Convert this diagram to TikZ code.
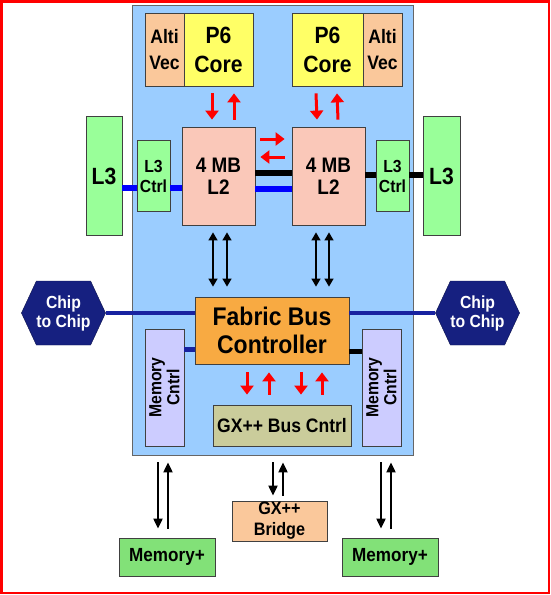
\documentclass[tikz,border=0pt]{standalone}
\usepackage{fontspec}
\setmainfont{Liberation Sans}[FakeStretch=0.9]
\usetikzlibrary{arrows.meta,shapes.symbols}

\definecolor{chipblue}{RGB}{155,205,255}
\definecolor{altipeach}{RGB}{250,200,155}
\definecolor{coreyellow}{RGB}{255,255,102}
\definecolor{ltwopink}{RGB}{250,200,185}
\definecolor{lthreegreen}{RGB}{153,255,153}
\definecolor{memgreen}{RGB}{130,225,120}
\definecolor{fabricorange}{RGB}{248,170,66}
\definecolor{cntrllilac}{RGB}{204,204,255}
\definecolor{gxolive}{RGB}{202,204,155}
\definecolor{hexnavy}{RGB}{22,32,128}
\definecolor{busnavy}{RGB}{24,34,160}
\definecolor{busblue}{RGB}{0,0,255}

\newcommand{\txtbig}{\fontsize{23.5}{29}\selectfont\bfseries}
\newcommand{\txtltwo}{\fontsize{21}{22}\selectfont\bfseries}
\newcommand{\txtalti}{\fontsize{19.5}{26}\selectfont\bfseries}
\newcommand{\txtfabric}{\fontsize{25.5}{28}\selectfont\bfseries}
\newcommand{\txtctrl}{\fontsize{17.5}{20}\selectfont\bfseries}
\newcommand{\txtchip}{\fontsize{17.5}{19}\selectfont\bfseries}
\newcommand{\txtmem}{\fontsize{17.5}{18}\selectfont\bfseries}
\newcommand{\txtmid}{\fontsize{18}{21}\selectfont\bfseries}
\newcommand{\txtplus}{\fontsize{19}{21}\selectfont\bfseries}
\newcommand{\txtgx}{\fontsize{19.5}{21}\selectfont\bfseries}

\begin{document}
\begin{tikzpicture}[x=1pt,y=-1pt,
		box/.style={draw=black!75,line width=0.8pt,inner sep=0pt,align=center},
		hexnode/.style={shape=signal,signal to=west and east,signal pointer angle=130,
			fill=hexnavy,draw=hexnavy!60!black,text=white,inner sep=0pt,align=center,
			minimum width=83pt,minimum height=64pt,font=\txtchip},
		redarr/.style={draw=red,line width=3pt,-{Triangle[width=13pt,length=9pt]}},
		duplex/.style={line width=1.5pt,{Triangle[width=9pt,length=8pt]}-{Triangle[width=9pt,length=8pt]}},
		onearr/.style={line width=2pt,-{Triangle[width=9pt,length=10pt]}}]
		\useasboundingbox (0,0) rectangle (550,595);
		
		% Frame
		\draw[red,line width=2.5pt] (1.25,1.25) rectangle (548.75,592.75);
		
		% Chip
		\node[draw=black!60,line width=0.8pt,fill=chipblue,minimum width=281pt,minimum height=450pt] (chip) at (272.5,230) {};
		
		%% Cores
		\node[box,fill=altipeach,minimum width=39pt,minimum height=73pt,font=\txtalti] (altiL) at (164.5,49.5) {Alti\\Vec};
		\node[box,fill=coreyellow,minimum width=69pt,minimum height=73pt,font=\txtbig] (coreL) at (218.5,49.5) {P6\\Core};
		\node[box,fill=coreyellow,minimum width=71pt,minimum height=73pt,font=\txtbig] (coreR) at (327.5,49.5) {P6\\Core};
		\node[box,fill=altipeach,minimum width=39pt,minimum height=73pt,font=\txtalti] (altiR) at (382.5,49.5) {Alti\\Vec};
		
		%% Caches
		\node[box,fill=ltwopink,minimum width=73pt,minimum height=98pt,font=\txtltwo] (ltwoL) at (218.5,176) {4 MB\\L2};
		\node[box,fill=ltwopink,minimum width=73pt,minimum height=98pt,font=\txtltwo] (ltwoR) at (328.5,176) {4 MB\\L2};
		\node[box,fill=lthreegreen,minimum width=33pt,minimum height=71pt,font=\txtctrl] (ctrlL) at (153.5,176) {L3\\Ctrl};
		\node[box,fill=lthreegreen,minimum width=33pt,minimum height=71pt,font=\txtctrl] (ctrlR) at (392.5,176) {L3\\Ctrl};
		\node[box,fill=lthreegreen,minimum width=36pt,minimum height=119pt,font=\txtbig] (lthreeL) at (104,176) {L3};
		\node[box,fill=lthreegreen,minimum width=37pt,minimum height=119pt,font=\txtbig] (lthreeR) at (441.5,176) {L3};
		
		%% Fabric and controllers
		\node[box,fill=fabricorange,minimum width=154pt,minimum height=67pt,font=\txtfabric] (fabric) at (272,330.5) {Fabric Bus\\Controller};
		\node[box,fill=cntrllilac,minimum width=117pt,minimum height=39pt,rotate=90,font=\txtmem] (memL) at (164.5,387.5) {Memory\\Cntrl};
		\node[box,fill=cntrllilac,minimum width=117pt,minimum height=39pt,rotate=90,font=\txtmem] (memR) at (381.5,387.5) {Memory\\Cntrl};
		\node[box,fill=gxolive,minimum width=138pt,minimum height=41pt,font=\txtgx] (gxbus) at (282,425.5) {GX++ Bus Cntrl};
		
		%% Chip to chip
		\node[hexnode] (hexL) at (63.5,313) {Chip\\to Chip};
		\node[hexnode] (hexR) at (477.5,313) {Chip\\to Chip};
		
		%% Outside the chip
		\node[box,fill=memgreen,minimum width=96pt,minimum height=38pt,font=\txtplus] (memplusL) at (167,557) {Memory+};
		\node[box,fill=memgreen,minimum width=96pt,minimum height=38pt,font=\txtplus] (memplusR) at (390,557) {Memory+};
		\node[box,fill=altipeach,minimum width=95pt,minimum height=40pt,font=\txtmid] (bridge) at (279.5,521) {GX++\\Bridge};
		
		%% Buses
		\draw[busblue,line width=6pt] ([yshift=-12pt]lthreeL.east) -- ([yshift=-12pt]ctrlL.west);
		\draw[busblue,line width=6pt] ([yshift=-12pt]ctrlL.east) -- ([yshift=-12pt]ltwoL.west);
		\draw[black,line width=6pt] ([yshift=3pt]ltwoL.east) -- ([yshift=3pt]ltwoR.west);
		\draw[busblue,line width=6pt] ([yshift=-13pt]ltwoL.east) -- ([yshift=-13pt]ltwoR.west);
		\draw[black,line width=6pt] ([yshift=1pt]ltwoR.east) -- ([yshift=1pt]ctrlR.west);
		\draw[black,line width=6pt] ([yshift=1pt]ctrlR.east) -- ([yshift=1pt]lthreeR.west);
		\draw[busnavy,line width=4pt] (hexL.east) -- (hexL.east -| fabric.west);
		\draw[busnavy,line width=4pt] (fabric.east |- hexR.west) -- (hexR.west);
		\draw[busnavy,line width=5pt] ([yshift=-18.5pt]fabric.west) -- ([yshift=-18.5pt]fabric.west -| memL.south);
		\draw[black,line width=5pt] ([yshift=-20.5pt]fabric.east) -- ([yshift=-20.5pt]fabric.east -| memR.north);
		
		%% Red arrows
		\draw[redarr] ([xshift=-6.5pt,yshift=-7pt]coreL.south) -- ([xshift=-6.5pt,yshift=7pt]ltwoL.north);
		\draw[redarr] ([xshift=15.5pt,yshift=7pt]ltwoL.north) -- ([xshift=15.5pt,yshift=-7pt]coreL.south);
		\draw[redarr] ([xshift=-11.5pt,yshift=-7pt]coreR.south) -- ([xshift=-11.5pt,yshift=7pt]ltwoR.north);
		\draw[redarr] ([xshift=9.5pt,yshift=7pt]ltwoR.north) -- ([xshift=9.5pt,yshift=-7pt]coreR.south);
		\draw[redarr] ([xshift=5pt,yshift=37pt]ltwoL.east) -- ([xshift=-7pt,yshift=37pt]ltwoR.west);
		\draw[redarr] ([xshift=-7pt,yshift=19pt]ltwoR.west) -- ([xshift=5pt,yshift=19pt]ltwoL.east);
		\draw[redarr] ([xshift=-25pt,yshift=-8pt]fabric.south) -- ([xshift=-25pt,yshift=10pt]fabric.south |- gxbus.north);
		\draw[redarr] ([xshift=-3pt,yshift=10pt]fabric.south |- gxbus.north) -- ([xshift=-3pt,yshift=-8pt]fabric.south);
		\draw[redarr] ([xshift=29pt,yshift=-8pt]fabric.south) -- ([xshift=29pt,yshift=10pt]fabric.south |- gxbus.north);
		\draw[redarr] ([xshift=50pt,yshift=10pt]fabric.south |- gxbus.north) -- ([xshift=50pt,yshift=-8pt]fabric.south);
		
		%% L2 <-> fabric
		\draw[duplex] ([xshift=-5.5pt,yshift=-7pt]ltwoL.south) -- ([xshift=-5.5pt,yshift=10pt]ltwoL.south |- fabric.north);
		\draw[duplex] ([xshift=8.5pt,yshift=-7pt]ltwoL.south) -- ([xshift=8.5pt,yshift=10pt]ltwoL.south |- fabric.north);
		\draw[duplex] ([xshift=-12.5pt,yshift=-7pt]ltwoR.south) -- ([xshift=-12.5pt,yshift=10pt]ltwoR.south |- fabric.north);
		\draw[duplex] ([xshift=0.5pt,yshift=-7pt]ltwoR.south) -- ([xshift=0.5pt,yshift=10pt]ltwoR.south |- fabric.north);
		
		%% Off chip
		\draw[onearr] ([xshift=-9pt,yshift=-7pt]memplusL.north |- chip.south) -- ([xshift=-9pt,yshift=9pt]memplusL.north);
		\draw[onearr] ([xshift=1pt,yshift=9pt]memplusL.north) -- ([xshift=1pt,yshift=-7pt]memplusL.north |- chip.south);
		\draw[onearr] ([xshift=-6.5pt,yshift=-7pt]bridge.north |- chip.south) -- ([xshift=-6.5pt,yshift=5pt]bridge.north);
		\draw[onearr] ([xshift=3.5pt,yshift=5pt]bridge.north) -- ([xshift=3.5pt,yshift=-7pt]bridge.north |- chip.south);
		\draw[onearr] ([xshift=-9pt,yshift=-7pt]memplusR.north |- chip.south) -- ([xshift=-9pt,yshift=9pt]memplusR.north);
		\draw[onearr] ([xshift=1pt,yshift=9pt]memplusR.north) -- ([xshift=1pt,yshift=-7pt]memplusR.north |- chip.south);
\end{tikzpicture}
\end{document}
